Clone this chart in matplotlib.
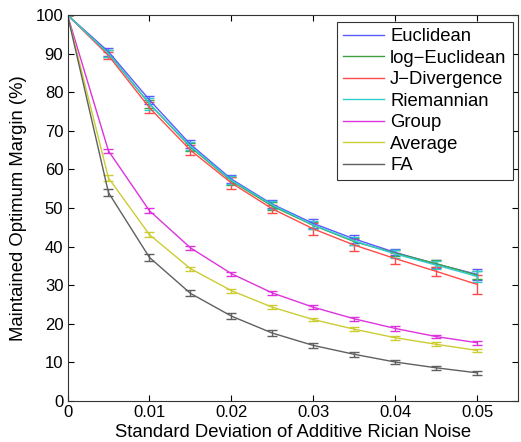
import matplotlib
matplotlib.use("Agg")
import matplotlib.pyplot as plt
from matplotlib.lines import Line2D
import numpy as np

plt.rcParams['font.family'] = ['Liberation Sans', 'DejaVu Sans']

x = [0, 0.005, 0.01, 0.015, 0.02, 0.025, 0.03, 0.035, 0.04, 0.045, 0.05]
series_names = ["Euclidean", "log\u2212Euclidean", "J\u2212Divergence", "Riemannian", "Group", "Average", "FA"]
euclidean = [100, 90.5, 78, 66.5, 57.5, 51, 46, 42, 38.5, 35.5, 32.8]
log_euclidean = [100, 90, 77, 65.8, 57, 50.5, 45.5, 41.3, 38.3, 35.6, 32.6]
j_divergence = [100, 89.5, 76, 65, 56.5, 49.8, 44.6, 40.4, 36.9, 33.6, 30.2]
riemannian = [100, 90, 77, 66, 57.2, 50.8, 45.6, 41.5, 38.1, 35.2, 32.3]
group = [100, 64.8, 49.3, 39.7, 33.0, 28.0, 24.3, 21.3, 18.8, 16.7, 15.1]
average = [100, 57.8, 43.1, 34.3, 28.6, 24.3, 21.1, 18.6, 16.4, 14.7, 13.1]
fa = [100, 54.0, 37.2, 27.9, 22.0, 17.6, 14.4, 12.1, 10.1, 8.6, 7.3]

err_euclidean = [0, 1.0, 1.0, 1.0, 1.0, 1.0, 1.2, 1.0, 0.8, 1.0, 1.5]
err_log_euclidean = [0, 1.0, 1.0, 1.0, 1.0, 1.0, 1.0, 1.0, 0.8, 1.0, 1.0]
err_j_divergence = [0, 1.0, 1.5, 1.2, 1.5, 1.0, 1.6, 1.5, 1.5, 1.2, 2.5]
err_riemannian = [0, 1.0, 1.5, 1.0, 1.0, 1.0, 1.0, 1.0, 1.0, 1.0, 1.5]
err_group = [0, 0.6, 0.6, 0.5, 0.5, 0.5, 0.5, 0.5, 0.6, 0.5, 0.5]
err_average = [0, 0.8, 0.7, 0.5, 0.5, 0.5, 0.5, 0.5, 0.5, 0.5, 0.5]
err_fa = [0, 1.0, 1.0, 0.8, 0.8, 0.7, 0.6, 0.7, 0.5, 0.5, 0.5]

colors = ['#5a5aff', '#3fa03f', '#ff4a4a', '#30cccc', '#dd33dd', '#cccc33', '#606060']
values = [euclidean, log_euclidean, j_divergence, riemannian, group, average, fa]
errors = [err_euclidean, err_log_euclidean, err_j_divergence, err_riemannian, err_group, err_average, err_fa]

fig = plt.figure(figsize=(5.21, 4.42), dpi=100)
ax = fig.add_axes([67.5/521, 1 - 401/442, (518 - 67.5)/521, (401 - 15)/442])

for name, v, e, c in zip(series_names, values, errors, colors):
    ax.errorbar(x, v, yerr=e, color=c, lw=1.0, capsize=3.5, elinewidth=1.0, capthick=1.0, label=name)

ax.set_xlim(0, 0.055)
ax.set_ylim(0, 100)
ax.set_xticks([0, 0.01, 0.02, 0.03, 0.04, 0.05])
ax.set_xticklabels(['0', '0.01', '0.02', '0.03', '0.04', '0.05'])
ax.set_yticks(np.arange(0, 101, 10))
ax.tick_params(direction='in', top=True, right=True, labelsize=12, length=4, width=0.8, pad=3)
for s in ax.spines.values():
    s.set_linewidth(0.8)
    s.set_color('#333333')

ax.set_xlabel('Standard Deviation of Additive Rician Noise', fontsize=13.3, labelpad=3)
ax.set_ylabel('Maintained Optimum Margin (%)', fontsize=13.3, labelpad=6)

lh = [Line2D([0], [0], color=c, lw=1.0) for c in colors]
leg = ax.legend(lh, series_names, loc='upper right', bbox_to_anchor=(0.989, 0.982),
                fontsize=13.3, fancybox=False, edgecolor='#333333', framealpha=1,
                handlelength=2.2, handletextpad=0.33, labelspacing=0.24, borderpad=0.35,
                borderaxespad=0)
leg.get_frame().set_linewidth(0.8)

fig.savefig('out.png', dpi=100)
